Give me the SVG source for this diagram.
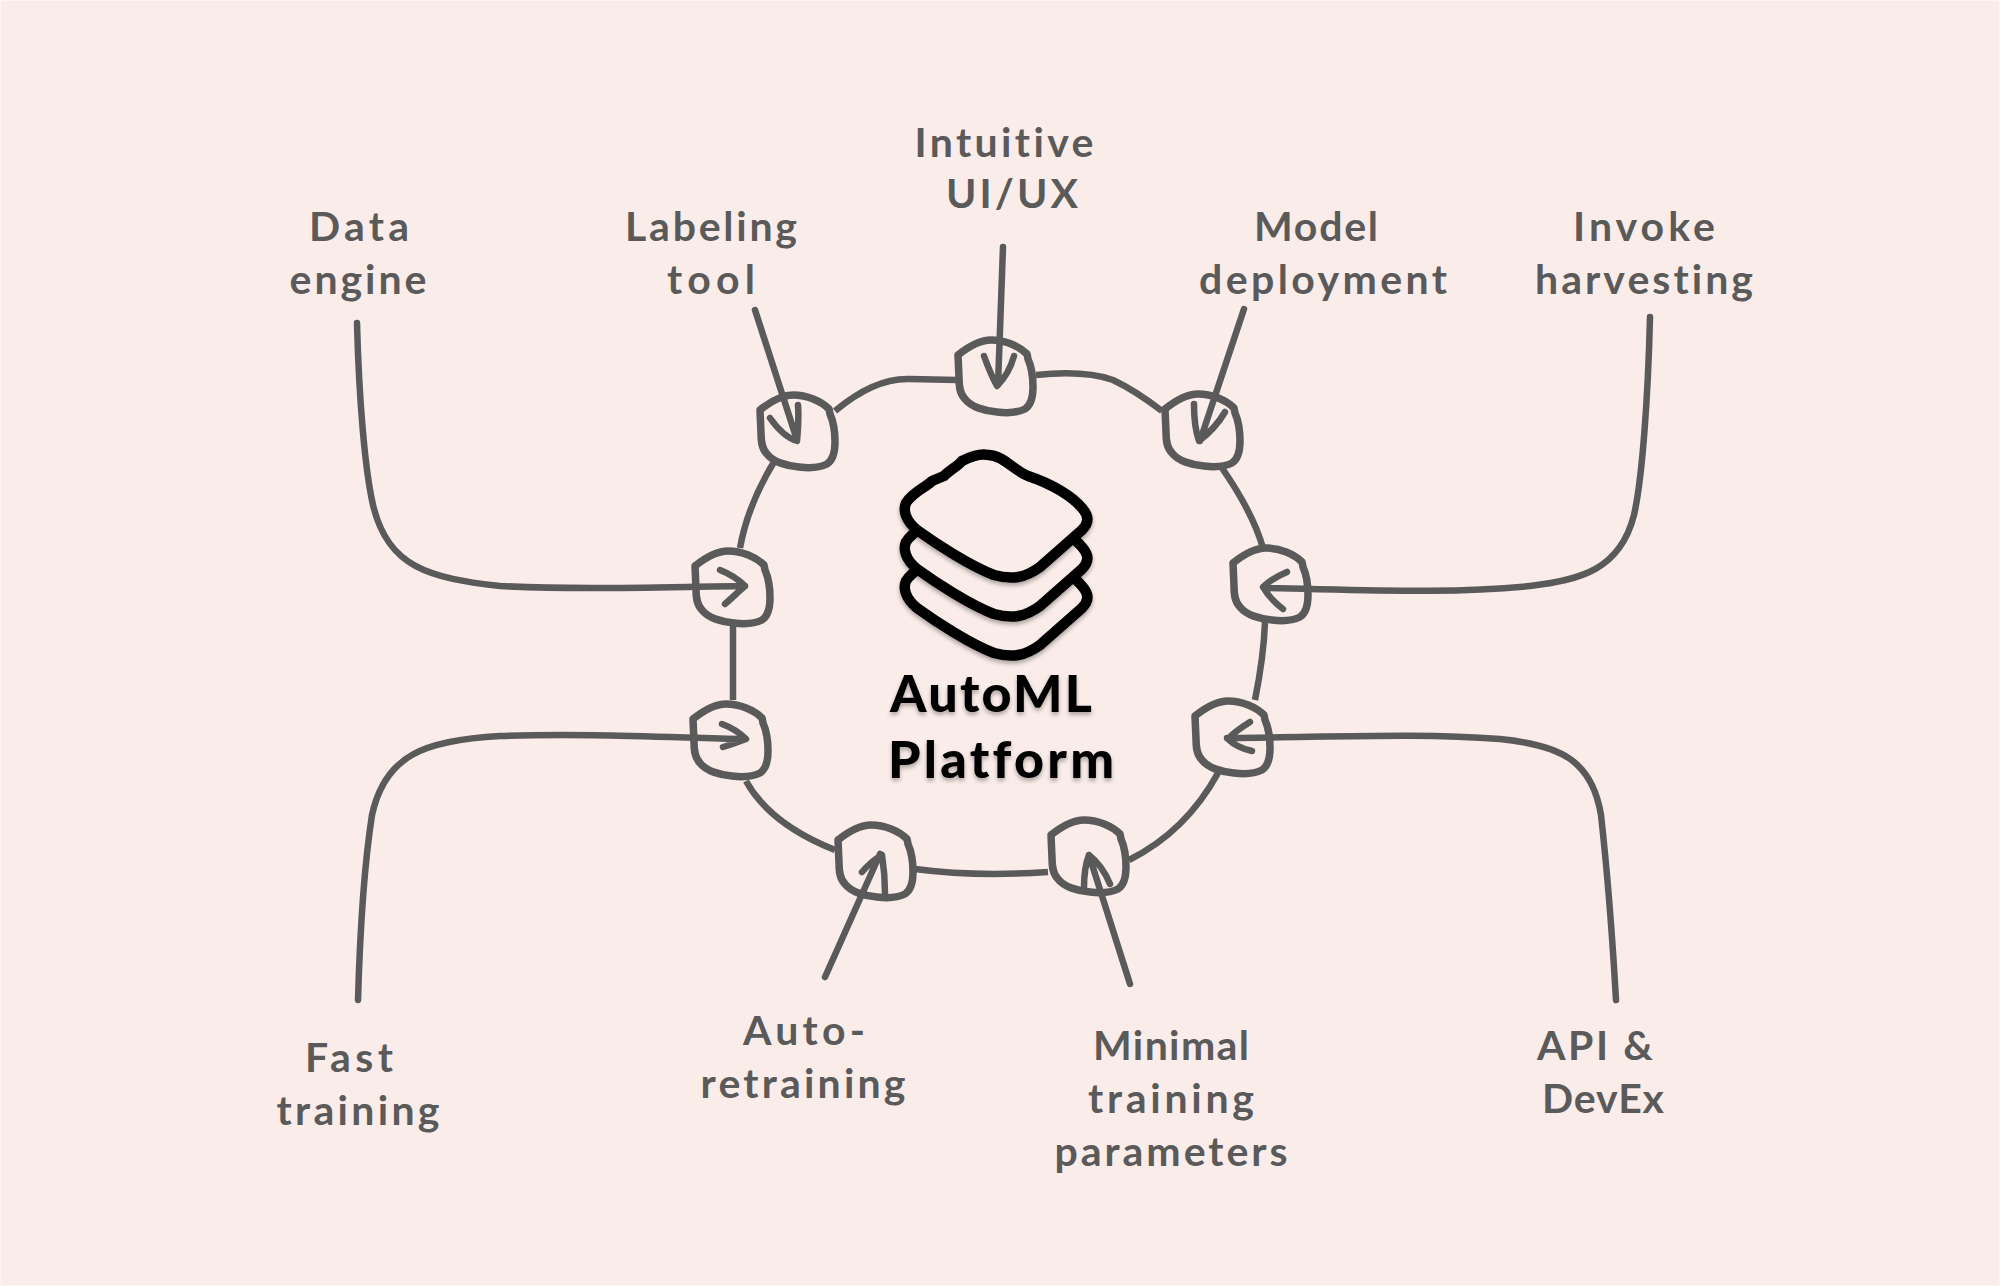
<svg xmlns="http://www.w3.org/2000/svg" width="2000" height="1286" viewBox="0 0 2000 1286">
<style>
.bg{fill:#faecE9}
.ring,.arrow{fill:none;stroke:#5a5a5a;stroke-width:6.5;stroke-linecap:round;stroke-linejoin:round}
.ring{stroke-linecap:butt}
.blob{fill:#faecE9;stroke:#5a5a5a;stroke-width:7.5;stroke-linejoin:round}
.lbl{font-family:"Lato","Noto Sans",sans-serif;font-size:41px;fill:#5a5a5a;text-anchor:middle;font-weight:700;font-variant-ligatures:none}
.title{font-family:"Lato","Noto Sans",sans-serif;font-size:52px;font-weight:900;fill:#000;text-anchor:middle;filter:url(#sh);font-variant-ligatures:none}
.layer{fill:#faecE9;stroke:#000;stroke-width:10.5;stroke-linejoin:round}
</style>
<defs>
<filter id="sh" x="-10%" y="-10%" width="120%" height="130%"><feDropShadow dx="0" dy="3" stdDeviation="2" flood-color="#000" flood-opacity="0.3"/></filter>
<path id="b" d="M-37 -21 C-27 -29 -16 -36 -4 -36 C10 -36 24 -30 32 -22 L33 -17 C37 -8 38 2 38 11 C38 21 36 29 30 33 C22 37 10 37 2 36 C-10 35 -24 31 -30 23 C-36 17 -36 8 -36 2 Z"/>
<path id="l" d="M988 455 C1003 455 1013 470 1028 476 C1052 484 1072 496 1082 508 C1090 517 1088 524 1082 530 L1040 567 C1025 578 1012 580 994 575 C970 566 935 543 917 530 C905 520 903 510 906 503 C913 492 925 488 932 481 L944 476 C950 470 958 466 962 461 C970 457 980 453 988 455 Z"/>
</defs>
<rect width="2000" height="1286" fill="#fdf5f3"/>
<rect class="bg" x="1" y="1" width="1998" height="1284"/>
<g id="connectors">
<g id="ring">
<path class="ring" d="M1036 375 C1065 372 1090 372 1113 380 C1130 388 1145 398 1162 411"/>
<path class="ring" d="M1222 468 C1240 494 1255 520 1263 548"/>
<path class="ring" d="M1265 622 C1264 650 1260 675 1255 700"/>
<path class="ring" d="M1218 773 C1195 815 1165 842 1129 860"/>
<path class="ring" d="M1048 872 C1005 875 960 875 915 869"/>
<path class="ring" d="M835 850 C790 832 762 810 746 781"/>
<path class="ring" d="M733 700 L733 625"/>
<path class="ring" d="M740 548 C746 515 758 488 774 462"/>
<path class="ring" d="M835 411 C860 390 885 378 910 379 L957 380"/>
</g>
</g>
<g id="node-data"><use href="#b" class="blob" x="732" y="587"/></g>
<g id="node-labeling"><use href="#b" class="blob" x="797" y="431"/></g>
<g id="node-ui"><use href="#b" class="blob" x="995" y="376"/></g>
<g id="node-model"><use href="#b" class="blob" x="1202" y="430"/></g>
<g id="node-invoke"><use href="#b" class="blob" x="1270" y="584"/></g>
<g id="node-api"><use href="#b" class="blob" x="1232" y="737"/></g>
<g id="node-minimal"><use href="#b" class="blob" x="1088" y="856"/></g>
<g id="node-auto"><use href="#b" class="blob" x="875" y="861"/></g>
<g id="node-fast"><use href="#b" class="blob" x="730" y="740"/></g>
<g id="arrows">
<path class="arrow" d="M357 323 C359 400 365 470 373 505 C388 568 430 578 500 586 C580 590 660 587 745 586 M720 570 C730 574 738 579 745 586 C738 592 732 598 725 604"/>
<path class="arrow" d="M755 310 L797 440 M770 418 C777 428 787 438 797 441 C798 430 799 418 798 405"/>
<path class="arrow" d="M1003 247 L998 385 M984 356 C988 367 992 377 997 386 C1005 378 1011 367 1014 356"/>
<path class="arrow" d="M1244 309 L1200 441 M1194 404 C1194 418 1195 430 1199 441 C1208 434 1218 424 1225 412"/>
<path class="arrow" d="M1650 317 C1648 400 1642 480 1634 515 C1620 570 1580 580 1530 586 C1450 594 1370 590 1264 588 M1287 572 C1278 576 1270 580 1263 587 C1268 596 1275 603 1283 609"/>
<path class="arrow" d="M1616 1000 C1612 930 1606 860 1601 815 C1592 760 1560 745 1500 739 C1420 733 1340 737 1227 738 M1250 722 C1242 727 1234 732 1228 739 C1234 745 1243 749 1252 751"/>
<path class="arrow" d="M1130 984 L1089 855 M1084 888 C1084 875 1085 865 1089 855 C1098 862 1105 872 1110 884"/>
<path class="arrow" d="M825 977 L880 854 M862 872 C868 865 875 859 882 855 C884 868 885 880 885 893"/>
<path class="arrow" d="M358 1000 C360 930 365 860 372 815 C385 755 425 740 500 736 C580 733 660 737 745 739 M722 724 C730 727 738 731 746 739 C738 742 730 745 723 747"/>
</g>
<g id="center">
<use href="#l" class="layer" y="78" filter="url(#sh)"/>
<use href="#l" class="layer" y="39" filter="url(#sh)"/>
<use href="#l" class="layer" filter="url(#sh)"/>
<text class="title" x="991" y="712" textLength="202">AutoML</text>
<text class="title" x="1001" y="778" textLength="226">Platform</text>
</g>
<g id="labels">
<text class="lbl" x="359" y="241" textLength="100">Data</text>
<text class="lbl" x="358" y="294" textLength="137">engine</text>
<text class="lbl" x="711" y="241" textLength="172">Labeling</text>
<text class="lbl" x="711" y="294" textLength="88">tool</text>
<text class="lbl" x="1004" y="157" textLength="179">Intuitive</text>
<text class="lbl" x="1012" y="208" textLength="132">UI/UX</text>
<text class="lbl" x="1316" y="241" textLength="124">Model</text>
<text class="lbl" x="1323" y="294" textLength="248">deployment</text>
<text class="lbl" x="1644" y="241" textLength="142">Invoke</text>
<text class="lbl" x="1644" y="294" textLength="218">harvesting</text>
<text class="lbl" x="349" y="1072" textLength="88">Fast</text>
<text class="lbl" x="358" y="1125" textLength="163">training</text>
<text class="lbl" x="804" y="1045" textLength="122">Auto-</text>
<text class="lbl" x="803" y="1098" textLength="205">retraining</text>
<text class="lbl" x="1171" y="1060" textLength="156">Minimal</text>
<text class="lbl" x="1171" y="1113" textLength="166">training</text>
<text class="lbl" x="1171" y="1166" textLength="233">parameters</text>
<text class="lbl" x="1595" y="1060" textLength="116">API &amp;</text>
<text class="lbl" x="1603" y="1113" textLength="122">DevEx</text>
</g>
</svg>
